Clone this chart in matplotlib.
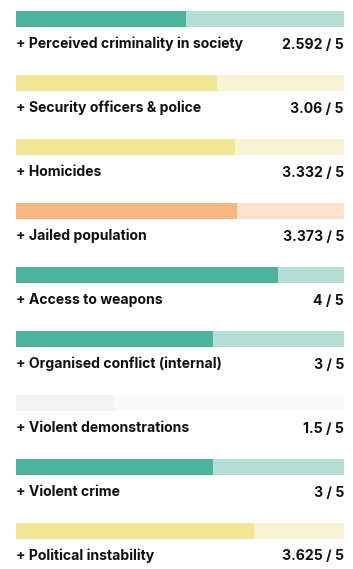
import numpy as np
import matplotlib.pyplot as plt

# Scores out of 5 for each indicator
labels = ['+ Perceived criminality in society', '+ Security officers & police',
          '+ Homicides', '+ Jailed population', '+ Access to weapons',
          '+ Organised conflict (internal)', '+ Violent demonstrations',
          '+ Violent crime', '+ Political instability']
scores = [2.592, 3.06, 3.332, 3.373, 4, 3, 1.5, 3, 3.625]
score_text = ['2.592', '3.06', '3.332', '3.373', '4', '3', '1.5', '3', '3.625']
max_score = 5

# colour bands per row (fill, track)
palette = {
    'teal': ('#4DB39E', '#B5DFD6'),
    'yellow': ('#F2E794', '#F8F3D3'),
    'orange': ('#F5B780', '#FBE2CF'),
    'grey': ('#F3F3F3', '#FAFAFA'),
}
row_colors = ['teal', 'yellow', 'yellow', 'orange', 'teal', 'teal', 'grey', 'teal', 'yellow']

W, H = 353, 569
fig = plt.figure(figsize=(W / 100, H / 100), dpi=100)
ax = fig.add_axes([0, 0, 1, 1])
ax.set_xlim(0, W)
ax.set_ylim(H, 0)
ax.axis('off')

left, width = 16, 328
for i, (lab, val, txt, c) in enumerate(zip(labels, scores, score_text, row_colors)):
    y = 19 + 64 * i
    fill, track = palette[c]
    ax.barh(y, width, left=left, height=16, color=track, linewidth=0)
    ax.barh(y, width * val / max_score, left=left, height=16, color=fill, linewidth=0)
    ax.text(left, y + 24.5, lab, fontsize=10.1, fontweight='bold', family='Inter',
            va='center', ha='left', color='#111111')
    ax.text(left + width, y + 25.5, f'{txt} / {max_score}', fontsize=10.1, fontweight='bold',
            family='Inter', va='center', ha='right', color='#111111')

fig.savefig('out.png', dpi=100)
